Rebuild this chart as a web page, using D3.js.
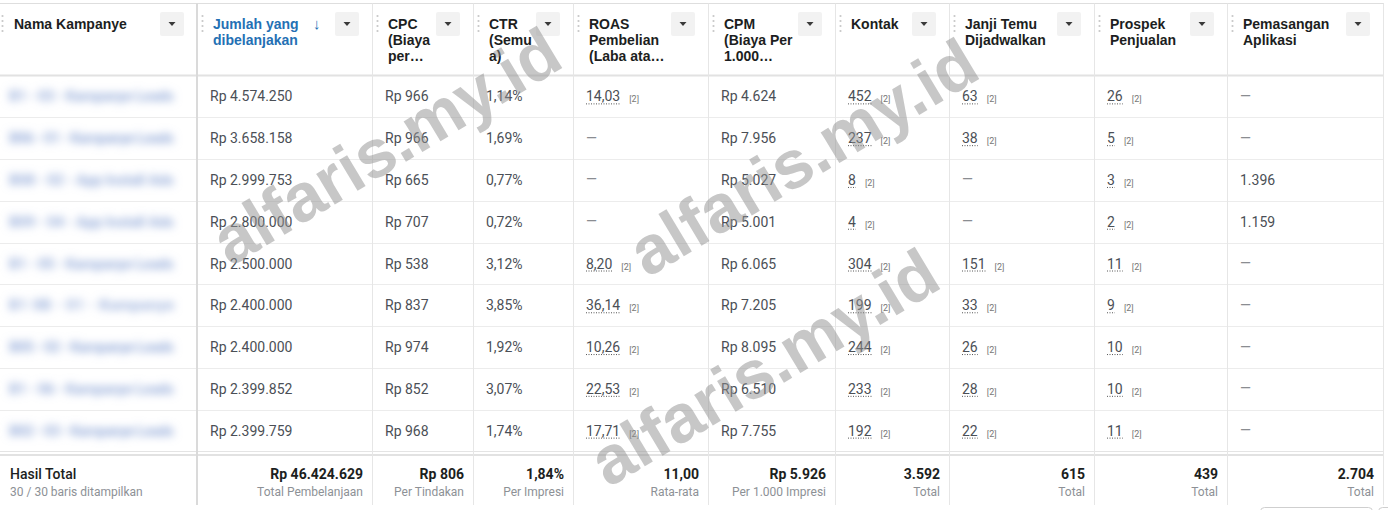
<!DOCTYPE html>
<html>
<head>
<meta charset="utf-8">
<script src="https://cdn.jsdelivr.net/npm/d3@7"></script>
<style>
  html, body { margin: 0; padding: 0; background: #fff; }
  svg { display: block; }
</style>
</head>
<body>
<svg id="chart" width="1388" height="510"></svg>
<script>
// ---------------- DATA ----------------
const headers = [
  ["Nama Kampanye"],
  ["Jumlah yang", "dibelanjakan"],
  ["CPC", "(Biaya", "per…"],
  ["CTR", "(Semu", "a)"],
  ["ROAS", "Pembelian", "(Laba ata…"],
  ["CPM", "(Biaya Per", "1.000…"],
  ["Kontak"],
  ["Janji Temu", "Dijadwalkan"],
  ["Prospek", "Penjualan"],
  ["Pemasangan", "Aplikasi"]
];
const campaignNames = [
  "B1 - 03 - Kampanye Leads",
  "B06 - 01 - Kampanye Leads",
  "B08 - 02 - App Install Ads",
  "B09 - 04 - App Install Ads",
  "B1 - 05 - Kampanye Leads",
  "B1 0B - 01 - Kampanye",
  "B05 - 02 - Kampanye Leads",
  "B1 - 06 - Kampanye Leads",
  "B02 - 03 - Kampanye Leads"
];
const spend      = [4574250, 3658158, 2999753, 2800000, 2500000, 2400000, 2400000, 2399852, 2399759];
const cpc        = [966, 966, 665, 707, 538, 837, 974, 852, 968];
const ctr        = [1.14, 1.69, 0.77, 0.72, 3.12, 3.85, 1.92, 3.07, 1.74];
const roas       = [14.03, null, null, null, 8.20, 36.14, 10.26, 22.53, 17.71];
const cpm        = [4624, 7956, 5027, 5001, 6065, 7205, 8095, 6510, 7755];
const kontak     = [452, 237, 8, 4, 304, 199, 244, 233, 192];
const janjiTemu  = [63, 38, null, null, 151, 33, 26, 28, 22];
const prospek    = [26, 5, 3, 2, 11, 9, 10, 10, 11];
const pemasangan = [null, null, 1396, 1159, null, null, null, null, null];

const totalValues = ["Rp 46.424.629", "Rp 806", "1,84%", "11,00", "Rp 5.926", "3.592", "615", "439", "2.704"];
const totalLabels = ["Total Pembelanjaan", "Per Tindakan", "Per Impresi", "Rata-rata", "Per 1.000 Impresi", "Total", "Total", "Total", "Total"];
const totalTitle = "Hasil Total";
const totalSub = "30 / 30 baris ditampilkan";
const watermark = "alfaris.my.id";

// ---------------- FORMAT ----------------
const loc = d3.formatLocale({decimal: ",", thousands: ".", grouping: [3], currency: ["Rp ", ""]});
const fRp = loc.format("$,.0f");
const fInt = loc.format(",.0f");
const fDec = loc.format(",.2f");
const fPct = v => loc.format(",.2f")(v) + "%";

const columns = [
  {vals: spend, fmt: fRp, attr: false},
  {vals: cpc, fmt: fRp, attr: false},
  {vals: ctr, fmt: fPct, attr: false},
  {vals: roas, fmt: fDec, attr: true},
  {vals: cpm, fmt: fRp, attr: false},
  {vals: kontak, fmt: fInt, attr: true},
  {vals: janjiTemu, fmt: fInt, attr: true},
  {vals: prospek, fmt: fInt, attr: true},
  {vals: pemasangan, fmt: fInt, attr: false}
];

// ---------------- LAYOUT ----------------
const W = 1388, H = 510;
const colEdges = [0, 197, 372, 473, 573, 708, 835, 949, 1094, 1227, 1383];
const headerTop = 3.5, headerBottom = 75.5, bodyBottom = 451.5, tableBottom = 505;

const svg = d3.select("#chart");
const defs = svg.append("defs");
defs.append("filter").attr("id", "blur").attr("x", "-10%").attr("y", "-80%").attr("width", "120%").attr("height", "260%")
  .append("feGaussianBlur").attr("stdDeviation", 4.5);

const y = d3.scaleBand().domain(d3.range(spend.length)).range([headerBottom, bodyBottom]).padding(0);
const xCol = d3.scaleOrdinal().domain(d3.range(colEdges.length)).range(colEdges);

const gridColor = "#e6e6e6";
const textColor = "#4b4f56";
const FONT = "Roboto, 'Liberation Sans', Arial, sans-serif";
const HFONT = "'Liberation Sans', Arial, Helvetica, sans-serif";

svg.append("rect").attr("width", W).attr("height", H).attr("fill", "#fff");

// horizontal grid
const g = svg.append("g");
g.append("line").attr("x1", 0).attr("x2", colEdges[10] + 1).attr("y1", headerTop).attr("y2", headerTop)
  .attr("stroke", "#dedede").attr("stroke-width", 1);
g.append("line").attr("x1", 0).attr("x2", colEdges[10] + 1).attr("y1", headerBottom).attr("y2", headerBottom)
  .attr("stroke", "#e2e2e2").attr("stroke-width", 2);
g.selectAll("line.row").data(d3.range(1, spend.length)).join("line").attr("class", "row")
  .attr("x1", 0).attr("x2", colEdges[10])
  .attr("y1", d => Math.round(y(d)) + 0.5).attr("y2", d => Math.round(y(d)) + 0.5)
  .attr("stroke", "#ececec");
g.append("line").attr("x1", 0).attr("x2", colEdges[10] + 1).attr("y1", bodyBottom).attr("y2", bodyBottom)
  .attr("stroke", "#e4e4e4");
g.append("line").attr("x1", 0).attr("x2", colEdges[10] + 1).attr("y1", bodyBottom + 3.5).attr("y2", bodyBottom + 3.5)
  .attr("stroke", "#e2e2e2").attr("stroke-width", 2);

// vertical grid
g.selectAll("line.col").data(d3.range(2, colEdges.length)).join("line").attr("class", "col")
  .attr("x1", d => xCol(d) + 0.5).attr("x2", d => xCol(d) + 0.5)
  .attr("y1", headerTop).attr("y2", tableBottom)
  .attr("stroke", gridColor);
g.append("line").attr("x1", colEdges[1]).attr("x2", colEdges[1]).attr("y1", headerTop).attr("y2", tableBottom)
  .attr("stroke", "#dadada").attr("stroke-width", 2);

// ---------------- HEADER ----------------
const hdr = svg.append("g");
headers.forEach((lines, i) => {
  const x0 = xCol(i), x1 = xCol(i + 1);
  const tx = i === 0 ? 14 : x0 + 16;
  const blue = i === 1;
  const t = hdr.append("text").attr("font-family", HFONT).attr("font-size", 14).attr("font-weight", "bold")
    .attr("fill", blue ? "#2470b4" : "#1c1e21");
  lines.forEach((ln, k) => {
    t.append("tspan").attr("x", tx).attr("y", 28.5 + k * 16).text(ln);
  });
  if (blue) {
    hdr.append("text").attr("x", x0 + 116).attr("y", 28.5).attr("font-family", FONT).attr("font-size", 15)
      .attr("fill", "#2470b4").text("↓");
  }
  const gx = i === 0 ? 2.5 : x0 + 5.5;
  hdr.selectAll(null).data([16, 21, 26, 31]).join("circle")
    .attr("cx", gx).attr("cy", d => d).attr("r", 1.1).attr("fill", "#c8c8c8");
  const bx = x1 - 13 - 24;
  hdr.append("rect").attr("x", bx).attr("y", 12).attr("width", 24).attr("height", 24).attr("rx", 2)
    .attr("fill", "#f2f2f2");
  hdr.append("path").attr("d", `M${bx + 8.5},${22} L${bx + 15.5},${22} L${bx + 12},${26} Z`).attr("fill", "#3a3a3a");
});

// ---------------- NAMES (blurred) ----------------
svg.append("g").selectAll("text").data(campaignNames).join("text")
  .attr("x", 9).attr("y", (d, i) => y(i) + y.bandwidth() / 2 + 5)
  .attr("font-family", FONT).attr("font-size", 15).attr("font-weight", "bold")
  .attr("fill", "#98aedb").attr("filter", "url(#blur)")
  .attr("textLength", 165).attr("lengthAdjust", "spacing")
  .text(d => d);

// ---------------- BODY ----------------
const body = svg.append("g");
columns.forEach((col, ci) => {
  const x = xCol(ci + 1) + 13;
  col.vals.forEach((v, ri) => {
    const by = y(ri) + y.bandwidth() / 2 + 5;
    if (v === null) {
      body.append("text").attr("x", x).attr("y", by - 0.5).attr("font-family", FONT).attr("font-size", 14)
        .attr("fill", "#8a8d91").text("—");
      return;
    }
    const t = body.append("text").attr("x", x).attr("y", by).attr("font-family", FONT).attr("font-size", 14)
      .attr("fill", textColor).text(col.fmt(v));
    if (col.attr) {
      const w = t.node().getComputedTextLength();
      body.append("line").attr("x1", x).attr("x2", x + w).attr("y1", by + 2.5).attr("y2", by + 2.5)
        .attr("stroke", "#555").attr("stroke-width", 1).attr("stroke-dasharray", "1,1.5");
      body.append("text").attr("x", x + w + 9).attr("y", by + 1).attr("font-family", FONT).attr("font-size", 9)
        .attr("fill", "#777").text("[2]");
    }
  });
});

// ---------------- TOTALS ----------------
const tot = svg.append("g");
tot.append("text").attr("x", 10).attr("y", 479).attr("font-family", FONT).attr("font-size", 14)
  .attr("font-weight", 500).attr("fill", "#1c1e21").text(totalTitle);
tot.append("text").attr("x", 10).attr("y", 496).attr("font-family", FONT).attr("font-size", 12)
  .attr("fill", "#8d9196").text(totalSub);
totalValues.forEach((v, i) => {
  const xr = xCol(i + 2) - 9;
  tot.append("text").attr("x", xr).attr("y", 479).attr("text-anchor", "end").attr("font-family", FONT)
    .attr("font-size", 14).attr("font-weight", "bold").attr("fill", "#1c1e21").text(v);
  tot.append("text").attr("x", xr).attr("y", 496).attr("text-anchor", "end").attr("font-family", FONT)
    .attr("font-size", 12).attr("fill", "#8d9196").text(totalLabels[i]);
});

// bottom-right button fragment
svg.append("rect").attr("x", 1260.5).attr("y", 507.5).attr("width", 112).attr("height", 20).attr("rx", 4)
  .attr("fill", "#fff").attr("stroke", "#cfcfcf");
svg.append("rect").attr("x", 1378.5).attr("y", 507.5).attr("width", 20).attr("height", 20).attr("rx", 4)
  .attr("fill", "#fff").attr("stroke", "#cfcfcf");

// ---------------- WATERMARK ----------------
const wmCenters = [[386, 146], [803, 157], [764, 367]];
svg.append("g").selectAll("text").data(wmCenters).join("text")
  .attr("transform", d => `translate(${d[0]},${d[1]}) rotate(-31)`)
  .attr("text-anchor", "middle").attr("dy", "0.35em")
  .attr("font-family", HFONT).attr("font-weight", "bold").attr("font-size", 68)
  .attr("fill", "#8f8f8f").attr("fill-opacity", 0.5)
  .text(watermark);
</script>
</body>
</html>
